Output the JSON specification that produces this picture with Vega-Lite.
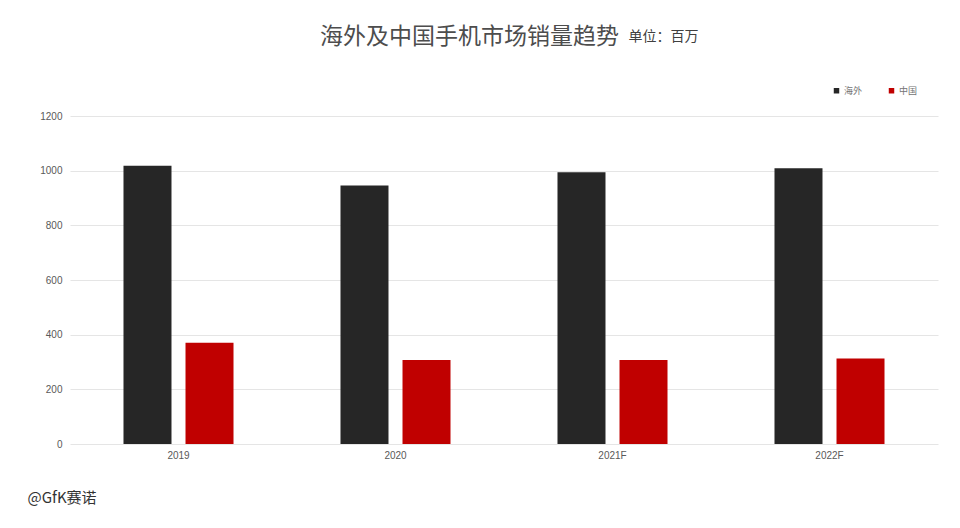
{
  "$schema": "https://vega.github.io/schema/vega-lite/v6.json",
  "width": 868,
  "height": 328,
  "autosize": {"type": "none"},
  "padding": {"left": 70, "top": 116, "right": 22, "bottom": 84},
  "background": "white",
  "title": {
    "text": "海外及中国手机市场销量趋势",
    "anchor": "start",
    "frame": "group",
    "dx": 250,
    "dy": 20,
    "offset": 0,
    "font": "Noto Sans CJK SC",
    "fontSize": 23,
    "fontWeight": "normal",
    "color": "#4d4d4d"
  },
  "data": {
    "values": [
      {"year": "2019", "region": "海外", "value": 1018},
      {"year": "2019", "region": "中国", "value": 370},
      {"year": "2020", "region": "海外", "value": 946},
      {"year": "2020", "region": "中国", "value": 307},
      {"year": "2021F", "region": "海外", "value": 994},
      {"year": "2021F", "region": "中国", "value": 307},
      {"year": "2022F", "region": "海外", "value": 1009},
      {"year": "2022F", "region": "中国", "value": 313}
    ]
  },
  "mark": {"type": "bar"},
  "encoding": {
    "x": {
      "field": "year",
      "type": "nominal",
      "sort": null,
      "scale": {"paddingInner": 0.493, "paddingOuter": 0.2465},
      "axis": {
        "title": "@GfK赛诺",
        "titleAnchor": "start",
        "titleAlign": "left",
        "titleBaseline": "middle",
        "titleX": -43,
        "titleY": 53,
        "titleFont": "Noto Sans CJK SC",
        "titleFontSize": 15,
        "titleFontWeight": "normal",
        "titleColor": "#333333",
        "labelAngle": 0,
        "labelFont": "Liberation Sans",
        "labelFontSize": 10,
        "labelColor": "#595959",
        "labelPadding": 6,
        "ticks": false,
        "domain": false,
        "grid": false
      }
    },
    "xOffset": {
      "field": "region",
      "type": "nominal",
      "sort": ["海外", "中国"],
      "scale": {"paddingInner": 0.226, "paddingOuter": 0}
    },
    "y": {
      "field": "value",
      "type": "quantitative",
      "scale": {"domain": [0, 1200]},
      "axis": {
        "values": [0, 200, 400, 600, 800, 1000, 1200],
        "format": "d",
        "title": "单位：百万",
        "titleAngle": 0,
        "titleAlign": "left",
        "titleBaseline": "middle",
        "titleX": 558,
        "titleY": -80,
        "titleFont": "Noto Sans CJK SC",
        "titleFontSize": 14,
        "titleFontWeight": "normal",
        "titleColor": "#404040",
        "labelFont": "Liberation Sans",
        "labelFontSize": 10,
        "labelColor": "#595959",
        "labelPadding": 8,
        "ticks": false,
        "domain": false,
        "gridColor": "#e5e5e5",
        "gridWidth": 1
      }
    },
    "color": {
      "field": "region",
      "type": "nominal",
      "scale": {"domain": ["海外", "中国"], "range": ["#262626", "#c00000"]},
      "legend": {
        "title": null,
        "orient": "none",
        "legendX": 762,
        "legendY": -30,
        "direction": "horizontal",
        "symbolType": "square",
        "symbolSize": 30,
        "symbolStrokeWidth": 0,
        "labelFont": "Noto Sans CJK SC",
        "labelFontSize": 9,
        "labelColor": "#737373",
        "labelOffset": 3,
        "columnPadding": 24
      }
    }
  },
  "config": {"view": {"stroke": null}}
}
